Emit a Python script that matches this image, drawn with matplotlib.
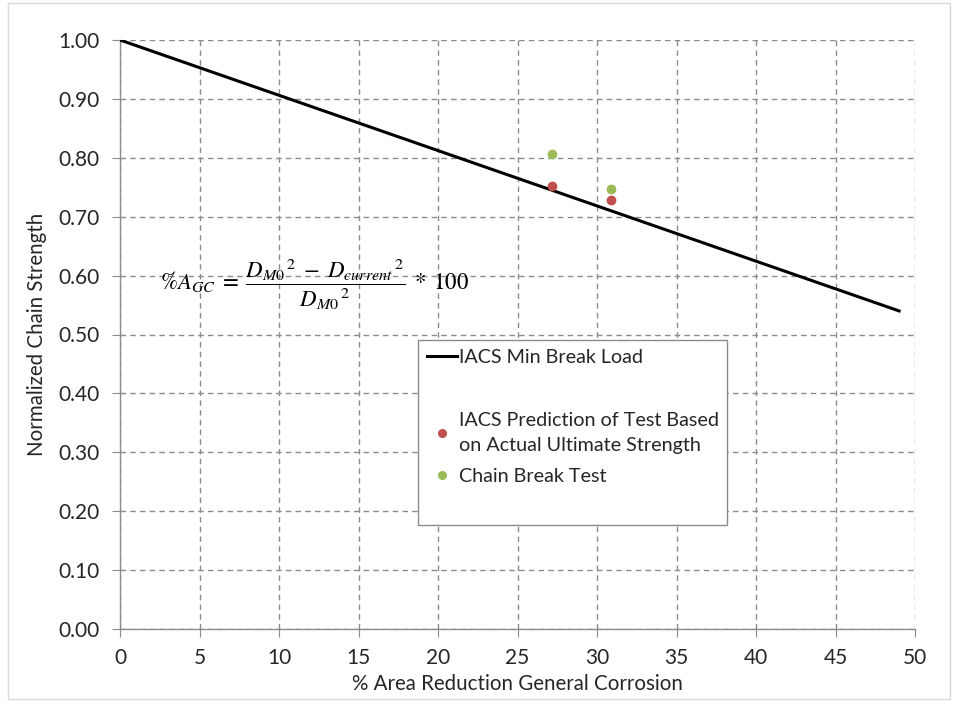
import matplotlib.pyplot as plt
from matplotlib.lines import Line2D
from matplotlib.patches import Rectangle

# data
line_x = [0, 49]
line_y = [1.00, 0.54]
pred_x = [27.2, 30.9]
pred_y = [0.752, 0.728]
test_x = [27.2, 30.9]
test_y = [0.806, 0.747]
xticks = list(range(0, 51, 5))
yticks = [i / 10 for i in range(0, 11)]

plt.rcParams['font.family'] = ['Lato', 'DejaVu Sans']
plt.rcParams['mathtext.fontset'] = 'stix'

red = '#c0504d'
green = '#9bbb59'
grid_c = '#8c8c8c'
text_c = '#262626'

fig = plt.figure(figsize=(9.55, 7.02), dpi=100)
ax = fig.add_axes([120 / 955, 1 - 629 / 702, 795 / 955, 589 / 702])

# light frame around the whole picture
fig.patches.append(Rectangle((8 / 955, 3 / 702), 942 / 955, 696 / 702,
                             transform=fig.transFigure, fill=False,
                             edgecolor='#d9d9d9', linewidth=1))

ax.plot(line_x, line_y, color='black', linewidth=2.2, zorder=3)
ax.plot(pred_x, pred_y, 'o', color=red, markersize=6, zorder=4)
ax.plot(test_x, test_y, 'o', color=green, markersize=6, zorder=4)

ax.set_xlim(0, 50)
ax.set_ylim(0, 1.0)
ax.set_xticks(xticks)
ax.set_yticks(yticks)
ax.set_yticklabels([f'{v:.2f}' for v in yticks])
ax.grid(True, linestyle=(0, (4, 3)), color=grid_c, linewidth=1)
for s in ['top', 'right']:
    ax.spines[s].set_visible(False)
for s in ['left', 'bottom']:
    ax.spines[s].set_color('#8c8c8c')
    ax.spines[s].set_linewidth(1)
ax.tick_params(axis='both', direction='out', length=6, color='#8c8c8c',
               labelsize=15, labelcolor=text_c)
ax.tick_params(axis='y', pad=9)
ax.tick_params(axis='x', pad=8)
ax.set_xlabel('% Area Reduction General Corrosion', fontsize=14.8,
              color=text_c, labelpad=4)
ax.set_ylabel('Normalized Chain Strength', fontsize=14.8,
              color=text_c, labelpad=8)

ax.text(2.5, 0.585,
        r'$\%A_{GC}\;=\;\dfrac{{D_{M0}}^{\,2}\;-\;{D_{current}}^{\,2}}{{D_{M0}}^{\,2}}\;*\;100$',
        fontsize=16.5, va='center', ha='left', color='black')

handles = [
    Line2D([], [], color='black', linewidth=2.2),
    Line2D([], [], linestyle='none'),
    Line2D([], [], marker='o', linestyle='none', color=red, markersize=5.5),
    Line2D([], [], marker='o', linestyle='none', color=green, markersize=5.5),
    Line2D([], [], linestyle='none'),
]
labels = ['IACS Min Break Load', '',
          'IACS Prediction of Test Based\non Actual Ultimate Strength',
          'Chain Break Test', '']
leg = ax.legend(handles, labels, loc='upper left',
                bbox_to_anchor=(0.375, 0.49), borderaxespad=0,
                fontsize=14.2, frameon=True, fancybox=False, framealpha=1,
                edgecolor='#8c8c8c', handlelength=1.5, handletextpad=0.1,
                labelspacing=0.72, borderpad=0.45)
leg.get_frame().set_linewidth(1)
for t in leg.get_texts():
    t.set_color(text_c)
    t.set_linespacing(1.6)

fig.savefig('out.png', dpi=100)
